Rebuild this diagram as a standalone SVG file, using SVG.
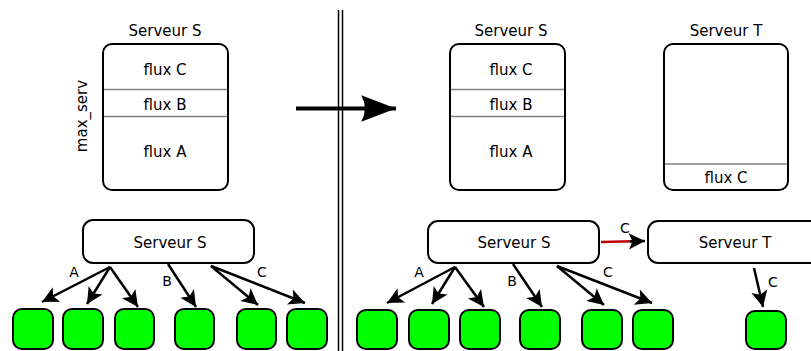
<svg xmlns="http://www.w3.org/2000/svg" width="811" height="351" viewBox="0 0 811 351">
<style>
text{font-family:"DejaVu Sans","Liberation Sans",sans-serif;font-size:15px;fill:#000;text-anchor:middle}
.lbl{font-size:14px}
.box{fill:#fff;stroke:#000;stroke-width:2}
.sep{stroke:#808080;stroke-width:1.5}
.leaf{fill:#00ff00;stroke:#000;stroke-width:2}
.edge{stroke:#000;stroke-width:2.5;fill:none}
</style>
<defs>
<marker id="ah" markerUnits="userSpaceOnUse" markerWidth="20" markerHeight="20" viewBox="-14 -8 16 16" refX="0" refY="0" orient="auto">
<path d="M0,0 L-13,-6.5 L-10,0 L-13,6.5 Z" fill="#000"/>
</marker>
<marker id="big" markerUnits="userSpaceOnUse" markerWidth="40" markerHeight="30" viewBox="-36 -14 38 28" refX="0" refY="0" orient="auto">
<path d="M0,0 L-33,-12.5 Q-26,0 -33,12.5 Z" fill="#000"/>
</marker>
</defs>

<g id="separator">
<line x1="338.5" y1="10" x2="338.5" y2="351" stroke="#000" stroke-width="1.5"/>
<line x1="342.5" y1="10" x2="342.5" y2="351" stroke="#000" stroke-width="1.5"/>
</g>

<g id="mem-s-left">
<text x="165" y="36">Serveur S</text>
<rect class="box" x="103" y="44" width="125" height="146" rx="9"/>
<line class="sep" x1="104" y1="89.5" x2="227" y2="89.5"/>
<line class="sep" x1="104" y1="116.5" x2="227" y2="116.5"/>
<text x="165" y="75">flux C</text>
<text x="165" y="110">flux B</text>
<text x="165" y="157">flux A</text>
<text transform="translate(87,116) rotate(-90)">max_serv</text>
</g>

<g id="mem-s-right">
<text x="511" y="36">Serveur S</text>
<rect class="box" x="450" y="44" width="115" height="146" rx="9"/>
<line class="sep" x1="451" y1="89.5" x2="564" y2="89.5"/>
<line class="sep" x1="451" y1="116.5" x2="564" y2="116.5"/>
<text x="511" y="75">flux C</text>
<text x="511" y="110">flux B</text>
<text x="511" y="157">flux A</text>
</g>

<g id="mem-t">
<text x="726" y="36">Serveur T</text>
<rect class="box" x="664" y="44" width="124" height="146" rx="9"/>
<line class="sep" x1="665" y1="164" x2="787" y2="164"/>
<text x="726" y="183">flux C</text>
</g>

<g id="server-s-left">
<rect class="box" x="83" y="220" width="171" height="43" rx="10"/>
<text x="170" y="248">Serveur S</text>
</g>
<g id="server-s-right">
<rect class="box" x="428" y="221" width="171" height="42" rx="10"/>
<text x="514" y="248">Serveur S</text>
</g>
<g id="server-t">
<rect class="box" x="648" y="221" width="172" height="42" rx="10"/>
<text x="735" y="248">Serveur T</text>
</g>

<g id="clients-left">
<rect class="leaf" x="13" y="309" width="40" height="40" rx="9"/>
<rect class="leaf" x="63" y="309" width="40" height="40" rx="9"/>
<rect class="leaf" x="115" y="309" width="39" height="40" rx="9"/>
<rect class="leaf" x="175" y="309" width="39" height="40" rx="9"/>
<rect class="leaf" x="237" y="309" width="39" height="40" rx="9"/>
<rect class="leaf" x="287" y="309" width="40" height="40" rx="9"/>
</g>
<g id="clients-right">
<rect class="leaf" x="357" y="310" width="40" height="39" rx="9"/>
<rect class="leaf" x="409" y="310" width="40" height="39" rx="9"/>
<rect class="leaf" x="460" y="310" width="40" height="39" rx="9"/>
<rect class="leaf" x="520" y="310" width="40" height="39" rx="9"/>
<rect class="leaf" x="582" y="310" width="40" height="39" rx="9"/>
<rect class="leaf" x="633" y="310" width="40" height="39" rx="9"/>
<rect class="leaf" x="746" y="311" width="40" height="38" rx="9"/>
</g>

<g id="connectors">
<line x1="296" y1="108.5" x2="396" y2="108.5" stroke="#000" stroke-width="4" marker-end="url(#big)"/>

<line class="edge" x1="110" y1="267" x2="42" y2="302" marker-end="url(#ah)"/>
<line class="edge" x1="110" y1="267" x2="87" y2="304" marker-end="url(#ah)"/>
<line class="edge" x1="110" y1="267" x2="138" y2="307" marker-end="url(#ah)"/>
<line class="edge" x1="168" y1="264" x2="196" y2="307" marker-end="url(#ah)"/>
<line class="edge" x1="211" y1="266" x2="258" y2="305" marker-end="url(#ah)"/>
<line class="edge" x1="211" y1="266" x2="305" y2="303" marker-end="url(#ah)"/>
<text class="lbl" x="74" y="277">A</text>
<text class="lbl" x="167" y="286">B</text>
<text class="lbl" x="262" y="277">C</text>

<line class="edge" x1="455" y1="267" x2="387" y2="303" marker-end="url(#ah)"/>
<line class="edge" x1="455" y1="267" x2="432" y2="304" marker-end="url(#ah)"/>
<line class="edge" x1="455" y1="267" x2="484" y2="307" marker-end="url(#ah)"/>
<line class="edge" x1="513" y1="264" x2="542" y2="307" marker-end="url(#ah)"/>
<line class="edge" x1="557" y1="266" x2="604" y2="305" marker-end="url(#ah)"/>
<line class="edge" x1="557" y1="266" x2="652" y2="303" marker-end="url(#ah)"/>
<text class="lbl" x="419" y="277">A</text>
<text class="lbl" x="512" y="286">B</text>
<text class="lbl" x="608" y="277">C</text>

<line x1="601" y1="242" x2="633" y2="241.3" stroke="#c00000" stroke-width="2.5"/>
<line x1="630" y1="241.4" x2="645" y2="241" stroke="#000" stroke-width="2.5" marker-end="url(#ah)"/>
<text class="lbl" x="625" y="233">C</text>

<line class="edge" x1="754" y1="268" x2="763" y2="307" marker-end="url(#ah)"/>
<text class="lbl" x="773" y="287">C</text>
</g>
</svg>
